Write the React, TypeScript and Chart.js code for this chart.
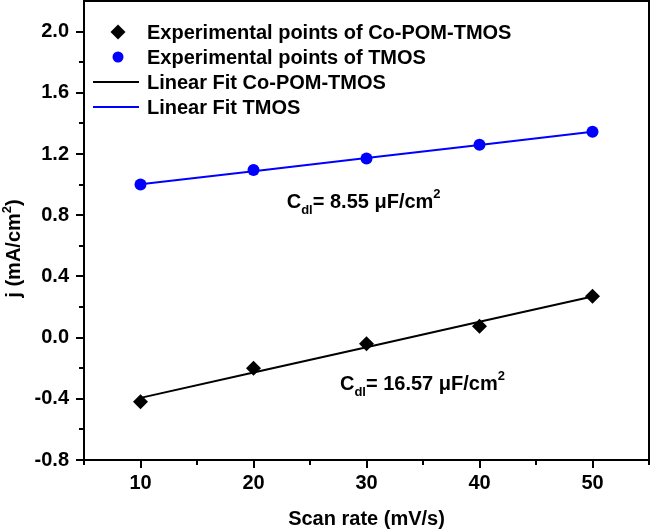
import React, { useEffect, useRef } from "react";
import { Chart, registerables } from "chart.js";
Chart.register(...registerables);

// ---- data ----
const scanRates = [10, 20, 30, 40, 50];
const coPomPoints = [-0.42, -0.2, -0.04, 0.075, 0.27];
const tmosPoints = [1.0, 1.095, 1.17, 1.26, 1.345];
const coPomFit = [-0.394, -0.228, -0.063, 0.103, 0.268];
const tmosFit = [1.003, 1.088, 1.174, 1.259, 1.345];
const seriesLabels = [
  "Experimental points of Co-POM-TMOS",
  "Experimental points of TMOS",
  "Linear Fit Co-POM-TMOS",
  "Linear Fit TMOS",
];
const xMajorTicks = [10, 20, 30, 40, 50];
const xMinorTicks = [5, 15, 25, 35, 45, 55];
const yMajorTicks = [-0.8, -0.4, 0.0, 0.4, 0.8, 1.2, 1.6, 2.0];
const yMinorTicks = [-0.6, -0.2, 0.2, 0.6, 1.0, 1.4, 1.8];
const cdlValues = ["8.55", "16.57"];
const cdlAnchors = [
  { x: 22.94, y: 0.85 },
  { x: 27.65, y: -0.345 },
];
const xTitle = "Scan rate (mV/s)";

const FONT = "'Liberation Sans', Arial, sans-serif";
const BLUE = "#0000ff";

function bold(size: number) {
  return `bold ${size}px ${FONT}`;
}

const extrasPlugin = {
  id: "extras",
  afterDraw(chart: any) {
    const { ctx, chartArea: a, scales } = chart;
    const xs = scales.x;
    const ys = scales.y;
    ctx.save();
    // frame
    ctx.strokeStyle = "#000";
    ctx.lineWidth = 2;
    ctx.strokeRect(a.left, a.top, a.right - a.left, a.bottom - a.top);
    // ticks
    ctx.beginPath();
    xMajorTicks.forEach((v) => {
      const px = Math.round(xs.getPixelForValue(v));
      ctx.moveTo(px, a.bottom);
      ctx.lineTo(px, a.bottom + 8);
    });
    xMinorTicks.forEach((v) => {
      const px = Math.round(xs.getPixelForValue(v));
      ctx.moveTo(px, a.bottom);
      ctx.lineTo(px, a.bottom + 5);
    });
    yMajorTicks.forEach((v) => {
      const py = Math.round(ys.getPixelForValue(v));
      ctx.moveTo(a.left, py);
      ctx.lineTo(a.left - 8, py);
    });
    yMinorTicks.forEach((v) => {
      const py = Math.round(ys.getPixelForValue(v));
      ctx.moveTo(a.left, py);
      ctx.lineTo(a.left - 5, py);
    });
    ctx.stroke();

    // y title (rotated) with superscript
    ctx.fillStyle = "#000";
    ctx.save();
    ctx.translate(20, (a.top + a.bottom) / 2 + 18);
    ctx.rotate(-Math.PI / 2);
    ctx.textBaseline = "alphabetic";
    ctx.textAlign = "left";
    const p1 = "j (mA/cm";
    const p2 = "2";
    const p3 = ")";
    ctx.font = bold(20);
    const w1 = ctx.measureText(p1).width;
    const w3 = ctx.measureText(p3).width;
    ctx.font = bold(13);
    const w2 = ctx.measureText(p2).width;
    const total = w1 + w2 + w3;
    let cx = -total / 2;
    ctx.font = bold(20);
    ctx.fillText(p1, cx, 0);
    cx += w1;
    ctx.font = bold(13);
    ctx.fillText(p2, cx, -9);
    cx += w2;
    ctx.font = bold(20);
    ctx.fillText(p3, cx, 0);
    ctx.restore();

    // legend
    const ds = chart.data.datasets;
    const rowY = [32, 57, 82, 107];
    const symX = a.left + 34;
    const textX = a.left + 63;
    ctx.textBaseline = "alphabetic";
    ctx.textAlign = "left";
    ctx.font = bold(20);
    ds.forEach((d: any, i: number) => {
      const y = rowY[i];
      if (d.showLine) {
        ctx.strokeStyle = d.borderColor;
        ctx.lineWidth = 2;
        ctx.beginPath();
        ctx.moveTo(a.left + 9, y);
        ctx.lineTo(a.left + 55, y);
        ctx.stroke();
      } else {
        ctx.fillStyle = d.backgroundColor;
        ctx.beginPath();
        if (d.pointStyle === "rectRot") {
          const r = 7.5;
          ctx.moveTo(symX, y - r);
          ctx.lineTo(symX + r, y);
          ctx.lineTo(symX, y + r);
          ctx.lineTo(symX - r, y);
          ctx.closePath();
        } else {
          ctx.arc(symX, y, 5.5, 0, Math.PI * 2);
        }
        ctx.fill();
      }
      ctx.fillStyle = "#000";
      ctx.fillText(d.label, textX, y + 7);
    });

    // Cdl annotations
    ctx.textBaseline = "alphabetic";
    cdlAnchors.forEach((an, i) => {
      let x = xs.getPixelForValue(an.x);
      const y = ys.getPixelForValue(an.y);
      ctx.fillStyle = "#000";
      ctx.font = bold(20);
      ctx.fillText("C", x, y);
      x += ctx.measureText("C").width;
      ctx.font = bold(13);
      ctx.fillText("dl", x, y + 6);
      x += ctx.measureText("dl").width;
      ctx.font = bold(20);
      const mid = "= " + cdlValues[i] + " \u03bcF/cm";
      ctx.fillText(mid, x, y);
      x += ctx.measureText(mid).width;
      ctx.font = bold(13);
      ctx.fillText("2", x, y - 10);
    });
    ctx.restore();
  },
};

export default function App() {
  const ref = useRef<HTMLCanvasElement | null>(null);
  useEffect(() => {
    if (!ref.current) return;
    const pts = (ys: number[]) => scanRates.map((x, i) => ({ x, y: ys[i] }));
    const zeroPad = (s: any) => {
      s.paddingTop = 0;
      s.paddingBottom = 0;
      s.paddingLeft = 0;
      s.paddingRight = 0;
    };
    const chart = new Chart(ref.current, {
      type: "scatter",
      data: {
        datasets: [
          {
            label: seriesLabels[0],
            data: pts(coPomPoints),
            pointStyle: "rectRot",
            pointRadius: 7.5,
            pointHoverRadius: 7.5,
            backgroundColor: "#000",
            borderColor: "#000",
            borderWidth: 0,
            showLine: false,
            order: 0,
          },
          {
            label: seriesLabels[1],
            data: pts(tmosPoints),
            pointStyle: "circle",
            pointRadius: 6,
            pointHoverRadius: 6,
            backgroundColor: BLUE,
            borderColor: BLUE,
            borderWidth: 0,
            showLine: false,
            order: 0,
          },
          {
            label: seriesLabels[2],
            data: pts(coPomFit),
            showLine: true,
            borderColor: "#000",
            backgroundColor: "#000",
            borderWidth: 2,
            pointRadius: 0,
            order: 1,
          },
          {
            label: seriesLabels[3],
            data: pts(tmosFit),
            showLine: true,
            borderColor: BLUE,
            backgroundColor: BLUE,
            borderWidth: 2,
            pointRadius: 0,
            order: 1,
          },
        ] as any,
      },
      options: {
        animation: false,
        responsive: false,
        layout: { autoPadding: false, padding: { top: 1, right: 1, left: 0, bottom: 0 } },
        plugins: { legend: { display: false }, tooltip: { enabled: false } },
        scales: {
          x: {
            type: "linear",
            min: 5,
            max: 55,
            grid: { display: false, drawTicks: false, tickLength: 0 },
            border: { display: false },
            afterBuildTicks: (s: any) => {
              s.ticks = xMajorTicks.map((v) => ({ value: v }));
            },
            afterFit: (s: any) => {
              s.height = 71;
              zeroPad(s);
            },
            ticks: {
              color: "#000",
              font: { family: FONT, size: 20, weight: "bold" },
              padding: 11,
              maxRotation: 0,
              callback: (v: any) => String(v),
            },
            title: {
              display: true,
              text: xTitle,
              color: "#000",
              font: { family: FONT, size: 20, weight: "bold" },
              padding: { top: 0, bottom: 0 },
            },
          },
          y: {
            type: "linear",
            min: -0.8,
            max: 2.2,
            grid: { display: false, drawTicks: false, tickLength: 0 },
            border: { display: false },
            afterBuildTicks: (s: any) => {
              s.ticks = yMajorTicks.map((v) => ({ value: v }));
            },
            afterFit: (s: any) => {
              s.width = 84;
              zeroPad(s);
            },
            ticks: {
              color: "#000",
              font: { family: FONT, size: 20, weight: "bold" },
              padding: 15,
              callback: (v: any) => Number(v).toFixed(1),
            },
          },
        },
      },
      plugins: [extrasPlugin],
    });
    return () => chart.destroy();
  }, []);
  return (
    <div style={{ position: "fixed", left: 0, top: 0, width: 650, height: 531, background: "#fff" }}>
      <canvas ref={ref} width={650} height={531} style={{ display: "block" }} />
    </div>
  );
}
